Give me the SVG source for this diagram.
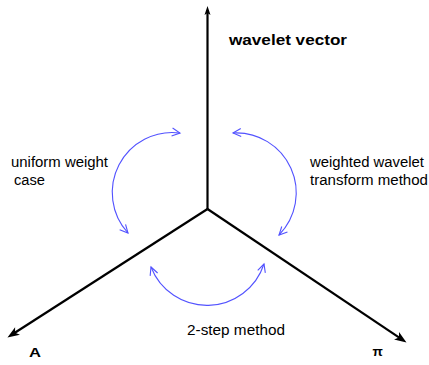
<svg xmlns="http://www.w3.org/2000/svg" width="429" height="365" viewBox="0 0 429 365">
  <style>
    .axis { stroke: #000; stroke-width: 2.2; fill: none; }
    .arc { stroke: #5252ff; stroke-width: 1.1; fill: none; marker-start: url(#open); marker-end: url(#open); }
    .lbl { font-family: "Liberation Sans", Arial, sans-serif; font-size: 14px; fill: #000; }
    .bold { font-family: "Liberation Sans", Arial, sans-serif; font-weight: bold; fill: #000; }
  </style>
  <defs>
    <marker id="solid" markerUnits="userSpaceOnUse" markerWidth="13" markerHeight="9" refX="6" refY="4.5" orient="auto" overflow="visible">
      <path d="M0,0 L12,4.5 L0,9 L3,4.5 Z" fill="#000"/>
    </marker>
    <marker id="solidS" markerUnits="userSpaceOnUse" markerWidth="10" markerHeight="7" refX="5" refY="3" orient="auto" overflow="visible">
      <path d="M0,0 L9,3 L0,6 L2,3 Z" fill="#000"/>
    </marker>
    <marker id="open" markerUnits="userSpaceOnUse" markerWidth="10" markerHeight="10" refX="8" refY="4" orient="auto-start-reverse" overflow="visible">
      <path d="M0,0 L8,4 L0,8" fill="none" stroke="#5252ff" stroke-width="1.1"/>
    </marker>
  </defs>
  <g id="connectors">
    <line class="axis" x1="207.5" y1="209" x2="207.5" y2="10" marker-end="url(#solidS)"/>
    <line class="axis" x1="207.5" y1="209" x2="12.5" y2="334.3" marker-end="url(#solid)"/>
    <line class="axis" x1="207.5" y1="209" x2="401.5" y2="339.2" marker-end="url(#solid)"/>
    <path id="arc-left" class="arc" d="M180,133 A60,60 0 0 0 128,233"/>
    <path id="arc-right" class="arc" d="M233,133 A60,60 0 0 1 279,235"/>
    <path id="arc-bottom" class="arc" d="M151,267 A60,60 0 0 0 264,264"/>
  </g>
  <g id="wavelet-vector"><text class="bold" x="229" y="44.5" font-size="14" textLength="118" lengthAdjust="spacingAndGlyphs">wavelet vector</text></g>
  <g id="A"><text class="bold" x="29" y="356.5" font-size="13.5" textLength="12" lengthAdjust="spacingAndGlyphs">A</text></g>
  <g id="pi"><text class="bold" x="372.5" y="355.5" font-size="13.5">π</text></g>
  <g id="uniform"><text class="lbl" x="11" y="166.5" textLength="97" lengthAdjust="spacingAndGlyphs">uniform weight</text><text class="lbl" x="14" y="184.5" textLength="31" lengthAdjust="spacingAndGlyphs">case</text></g>
  <g id="weighted"><text class="lbl" x="310" y="166.5" textLength="114" lengthAdjust="spacingAndGlyphs">weighted wavelet</text><text class="lbl" x="310" y="184.5" textLength="118" lengthAdjust="spacingAndGlyphs">transform method</text></g>
  <g id="two-step"><text class="lbl" x="187" y="335" textLength="98" lengthAdjust="spacingAndGlyphs">2-step method</text></g>
</svg>
